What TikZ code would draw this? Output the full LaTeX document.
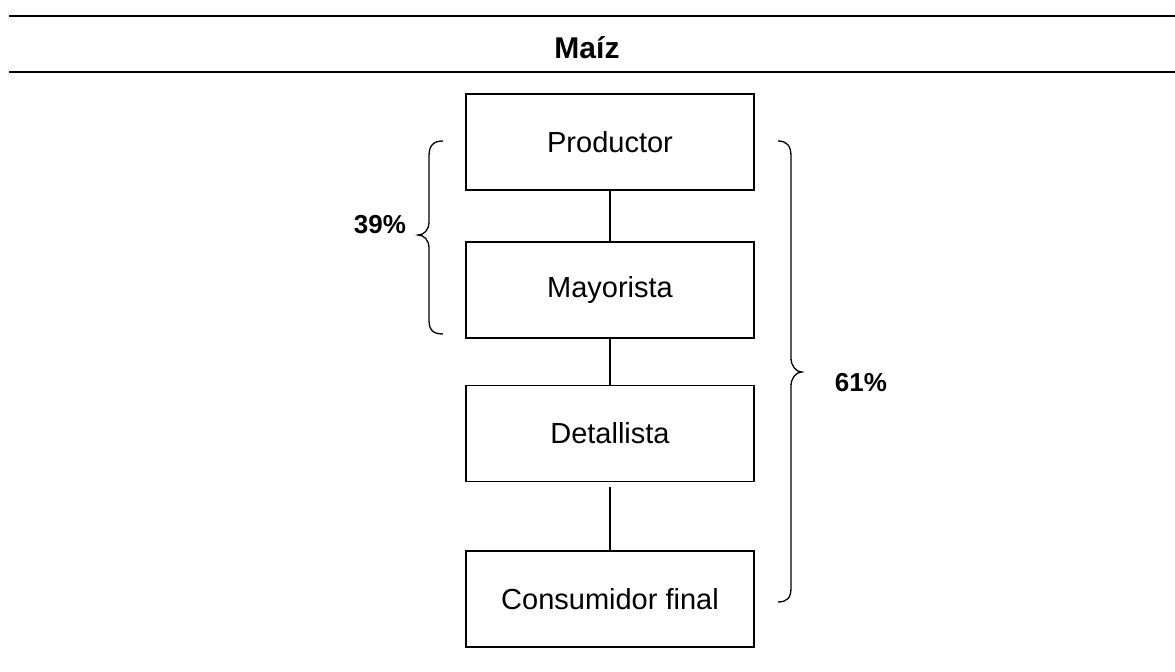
\documentclass[tikz,border=0pt]{standalone}
\usepackage{fontspec}
\setmainfont{Liberation Sans}
\begin{document}
\begin{tikzpicture}[x=0.5pt,y=-0.5pt,
  box/.style={draw, line width=0.65pt, minimum width=144pt, minimum height=48pt, inner sep=0pt, font=\fontsize{14.5}{17}\selectfont},
  conn/.style={line width=0.65pt},
  rule/.style={line width=1pt},
  brc/.style={line width=0.65pt},
  pct/.style={font=\bfseries\fontsize{13}{15}\selectfont, anchor=base, inner sep=0pt},
  ttl/.style={font=\bfseries\fontsize{15}{18}\selectfont, anchor=base, inner sep=0pt}]
\useasboundingbox (0,0) rectangle (1175,672);
\draw[rule] (9,15.7) -- (1175,15.7);
\draw[rule] (9,72.3) -- (1175,72.3);
\node[ttl] (title) at (587,58.3) {Maíz};
\node[box] (prod) at (610,142) {Productor};
\node[box] (may) at (610,290) {Mayorista};
\node[box] (det) at (610,433.5) {Detallista};
\node[box] (cons) at (610,599) {Consumidor final};
\draw[conn] (prod) -- (may);
\draw[conn] (may) -- (det);
\draw[conn, shorten <=2.5pt] (det) -- (cons);
\draw[brc] (443,141) .. controls (433,141) and (429,146) .. (429,156) -- (429,222)
  .. controls (429,230) and (424,235) .. (418,235)
  .. controls (424,235) and (429,240) .. (429,248) -- (429,320)
  .. controls (429,330) and (433,334) .. (443,334);
\draw[brc] (778,141) .. controls (787,141) and (791,146) .. (791,156) -- (791,358)
  .. controls (791,366) and (796,372) .. (802,372)
  .. controls (796,372) and (791,378) .. (791,386) -- (791,588)
  .. controls (791,598) and (787,602) .. (778,602);
\node[pct] (p39) at (380,234) {39\%};
\node[pct] (p61) at (861,391.5) {61\%};
\end{tikzpicture}
\end{document}
